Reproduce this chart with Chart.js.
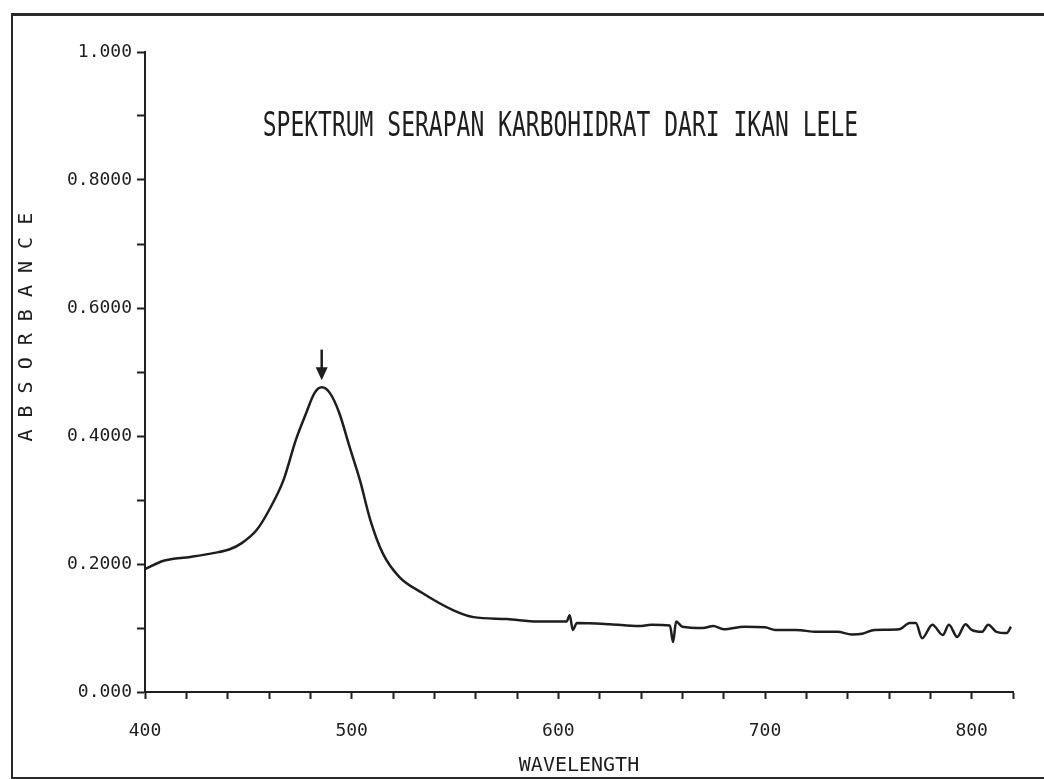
<!DOCTYPE html>
<html>
<head>
<meta charset="utf-8">
<script src="https://cdn.jsdelivr.net/npm/chart.js@4.4.1/dist/chart.umd.min.js"></script>
<style>
    body { margin: 0; background: #ffffff; }
    #wrap { position: relative; width: 1044px; height: 779px; overflow: hidden; }
    #frame {
        position: absolute; left: 11px; top: 13px; width: 1040px; height: 761px;
        border-top: 3px solid #2a2a2a; border-left: 2px solid #2a2a2a; border-bottom: 3px solid #2a2a2a;
        pointer-events: none;
    }
</style>
</head>
<body>
<div id="wrap">
    <canvas id="spectrumChart" width="1044" height="779"></canvas>
    <div id="frame"></div>
</div>
<script>
var chartTitle = 'SPEKTRUM SERAPAN KARBOHIDRAT DARI IKAN LELE';
var xTitle = 'WAVELENGTH';
var yTitle = 'A B S O R B A N C E';

var xTickLabels = {400: '400', 500: '500', 600: '600', 700: '700', 800: '800'};
var yTickLabels = {'0.0': '0.000', '0.2': '0.2000', '0.4': '0.4000', '0.6': '0.6000', '0.8': '0.8000', '1.0': '1.000'};

var wavelength = [400, 409, 422, 433, 441, 447, 454, 460, 467, 473, 478, 482, 485.5, 489.5, 494, 499, 504, 509,
    515, 523, 534, 549, 559, 575, 590, 604, 605.5, 607, 609, 625, 639, 645, 654, 655.5, 657, 660, 670, 675,
    680, 690, 700, 705, 715, 725, 735, 742, 747, 753, 765, 770, 773, 776, 781, 786, 789, 793, 797, 800,
    805, 808, 812, 817, 819];
var absorbance = [0.192, 0.205, 0.211, 0.217, 0.223, 0.233, 0.253, 0.284, 0.331, 0.394, 0.436, 0.467, 0.476, 0.467,
    0.436, 0.383, 0.331, 0.269, 0.217, 0.180, 0.155, 0.128, 0.117, 0.114, 0.110, 0.110, 0.120, 0.097, 0.108,
    0.106, 0.103, 0.105, 0.104, 0.078, 0.110, 0.102, 0.100, 0.103, 0.098, 0.102, 0.101, 0.097, 0.097, 0.094,
    0.094, 0.090, 0.091, 0.097, 0.098, 0.108, 0.108, 0.084, 0.105, 0.089, 0.105, 0.086, 0.106, 0.097, 0.094,
    0.105, 0.094, 0.092, 0.102];

var peakWavelength = 485.5;

var ink = '#1e1e1e';
var points = wavelength.map(function (w, i) { return {x: w, y: absorbance[i]}; });

// title, y title and peak arrow, placed through the scales
var annotate = {
    id: 'annotate',
    afterDraw: function (chart) {
        var ctx = chart.ctx, xs = chart.scales.x, ys = chart.scales.y;

        ctx.save();
        ctx.fillStyle = ink;
        ctx.font = '23px "DejaVu Sans Mono"';
        ctx.textAlign = 'center';
        ctx.textBaseline = 'middle';
        ctx.translate(xs.getPixelForValue(601), ys.getPixelForValue(0.883));
        ctx.scale(1, 1.45);
        ctx.fillText(chartTitle, 0, 0);
        ctx.restore();

        ctx.save();
        ctx.fillStyle = ink;
        ctx.font = '20px "DejaVu Sans Mono"';
        ctx.textAlign = 'center';
        ctx.textBaseline = 'middle';
        ctx.translate(27, ys.getPixelForValue(0.57));
        ctx.rotate(-Math.PI / 2);
        ctx.fillText(yTitle, 0, 0);
        ctx.restore();

        var ax = xs.getPixelForValue(peakWavelength);
        var top = ys.getPixelForValue(0.535);
        var tip = ys.getPixelForValue(0.487);
        ctx.save();
        ctx.strokeStyle = ink;
        ctx.fillStyle = ink;
        ctx.lineWidth = 2.5;
        ctx.beginPath();
        ctx.moveTo(ax, top);
        ctx.lineTo(ax, tip - 10);
        ctx.stroke();
        ctx.beginPath();
        ctx.moveTo(ax - 6, tip - 13);
        ctx.lineTo(ax + 6, tip - 13);
        ctx.lineTo(ax, tip);
        ctx.closePath();
        ctx.fill();
        ctx.restore();
    }
};

var ctx = document.getElementById('spectrumChart').getContext('2d');

var myChart = new Chart(ctx, {
    type: 'line',
    data: {
        datasets: [
            {
                label: 'Absorbance',
                data: points,
                borderColor: ink,
                borderWidth: 2.5,
                pointRadius: 0,
                fill: false,
                cubicInterpolationMode: 'monotone'
            }
        ]
    },
    options: {
        responsive: false,
        animation: false,
        layout: {
            padding: {top: 52, right: 31, left: 0, bottom: 0}
        },
        plugins: {
            legend: {display: false},
            tooltip: {enabled: false}
        },
        scales: {
            x: {
                type: 'linear',
                min: 400,
                max: 820,
                afterFit: function (scale) { scale.height = 87; },
                grid: {drawOnChartArea: false, drawTicks: true, tickLength: 7, tickColor: ink, tickWidth: 2},
                border: {display: true, color: ink, width: 2},
                ticks: {
                    stepSize: 20,
                    autoSkip: false,
                    maxRotation: 0,
                    padding: 22,
                    color: ink,
                    font: {family: 'DejaVu Sans Mono', size: 18},
                    callback: function (value) { return xTickLabels[value] || ''; }
                },
                title: {
                    display: true,
                    text: xTitle,
                    color: ink,
                    font: {family: 'DejaVu Sans Mono', size: 20},
                    padding: {top: 0, bottom: 1}
                }
            },
            y: {
                min: 0,
                max: 1,
                afterFit: function (scale) { scale.width = 145; },
                grid: {drawOnChartArea: false, drawTicks: true, tickLength: 8, tickColor: ink, tickWidth: 2},
                border: {display: true, color: ink, width: 2},
                ticks: {
                    stepSize: 0.1,
                    autoSkip: false,
                    padding: 5,
                    color: ink,
                    font: {family: 'DejaVu Sans Mono', size: 18},
                    callback: function (value) { return yTickLabels[value.toFixed(1)] || ''; }
                }
            }
        }
    },
    plugins: [annotate]
});
</script>
</body>
</html>
